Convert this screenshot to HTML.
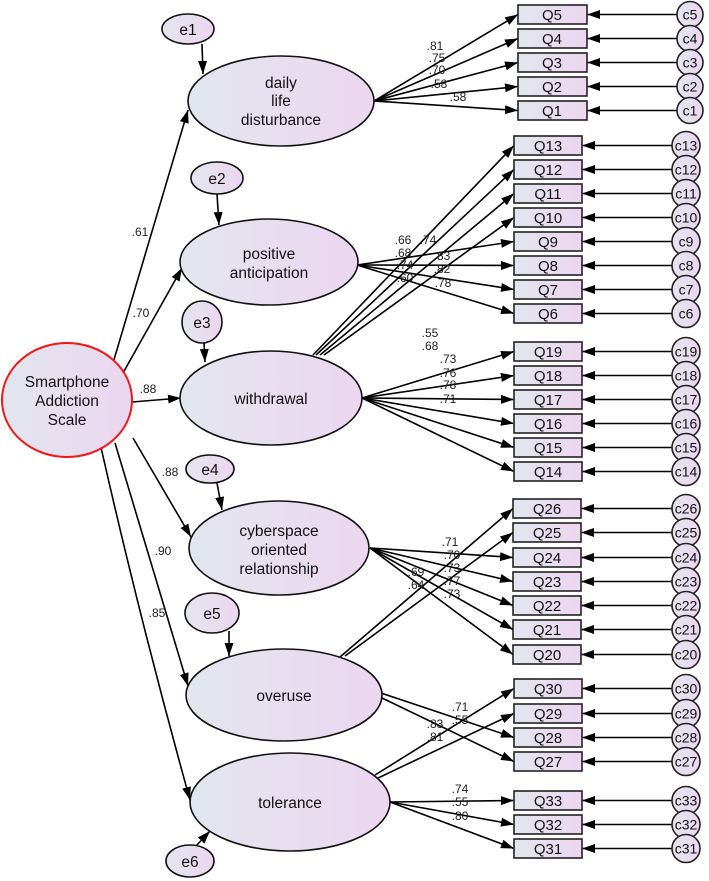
<!DOCTYPE html>
<html><head><meta charset="utf-8"><style>body{margin:0;background:#fff}svg{display:block}</style></head><body>
<svg width="709" height="881" viewBox="0 0 709 881" xmlns="http://www.w3.org/2000/svg" font-family="Liberation Sans, Arial, sans-serif">
<defs>
<linearGradient id="g" x1="0" y1="0" x2="1" y2="0"><stop offset="0" stop-color="#e2e6ee"/><stop offset="1" stop-color="#ecd6f0"/></linearGradient>
<marker id="a" markerUnits="userSpaceOnUse" markerWidth="14" markerHeight="10" refX="13" refY="4.5" orient="auto"><path d="M0,0 L13,4.5 L0,9 z" fill="#000"/></marker>
</defs>
<g stroke="#000" stroke-width="1.6" fill="none" marker-end="url(#a)">
<line x1="113" y1="363" x2="188" y2="110"/>
<line x1="123" y1="373" x2="182" y2="268"/>
<line x1="132" y1="402" x2="181" y2="398"/>
<line x1="133" y1="438" x2="191" y2="537"/>
<path d="M115,443 Q150,560 188,686"/>
<path d="M100,443 Q140,620 190,800"/>
<line x1="202" y1="44" x2="203" y2="74"/>
<line x1="217" y1="194" x2="219" y2="225"/>
<line x1="204" y1="343" x2="205" y2="362"/>
<line x1="217" y1="483" x2="222" y2="510"/>
<line x1="229" y1="631" x2="229" y2="656"/>
<line x1="196" y1="846" x2="210" y2="831"/>
<line x1="374" y1="101" x2="518" y2="14.5"/>
<line x1="374" y1="101" x2="518" y2="38.5"/>
<line x1="374" y1="101" x2="518" y2="62.5"/>
<line x1="374" y1="101" x2="518" y2="86.5"/>
<line x1="374" y1="101" x2="518" y2="110.5"/>
<line x1="357" y1="265" x2="514" y2="241.5"/>
<line x1="357" y1="265" x2="514" y2="265.5"/>
<line x1="357" y1="265" x2="514" y2="289.5"/>
<line x1="357" y1="265" x2="514" y2="313.5"/>
<line x1="313" y1="355" x2="514" y2="145.5"/>
<line x1="316" y1="355" x2="514" y2="169.5"/>
<line x1="320" y1="355" x2="514" y2="193.5"/>
<line x1="324" y1="355" x2="514" y2="217.5"/>
<line x1="362" y1="398" x2="514" y2="351.5"/>
<line x1="362" y1="398" x2="514" y2="375.5"/>
<line x1="362" y1="398" x2="514" y2="399.5"/>
<line x1="362" y1="398" x2="514" y2="423.5"/>
<line x1="362" y1="398" x2="514" y2="447.5"/>
<line x1="362" y1="398" x2="514" y2="471.5"/>
<line x1="370" y1="548" x2="513" y2="557.5"/>
<line x1="370" y1="548" x2="513" y2="581.5"/>
<line x1="370" y1="548" x2="513" y2="605.5"/>
<line x1="370" y1="548" x2="513" y2="629.5"/>
<line x1="370" y1="548" x2="513" y2="654.5"/>
<line x1="340" y1="657" x2="513" y2="508.5"/>
<line x1="345" y1="656" x2="513" y2="532.5"/>
<line x1="381" y1="693" x2="514" y2="737.5"/>
<line x1="382" y1="698" x2="514" y2="761.5"/>
<line x1="375" y1="775" x2="514" y2="688.5"/>
<line x1="378" y1="778" x2="514" y2="713.5"/>
<line x1="390" y1="802" x2="514" y2="800.5"/>
<line x1="390" y1="802" x2="514" y2="824.5"/>
<line x1="390" y1="802" x2="514" y2="848.5"/>
<line x1="677" y1="14.5" x2="587" y2="14.5"/>
<line x1="677" y1="38.5" x2="587" y2="38.5"/>
<line x1="677" y1="62.5" x2="587" y2="62.5"/>
<line x1="677" y1="86.5" x2="587" y2="86.5"/>
<line x1="677" y1="110.5" x2="587" y2="110.5"/>
<line x1="672" y1="145.5" x2="582" y2="145.5"/>
<line x1="672" y1="169.5" x2="582" y2="169.5"/>
<line x1="672" y1="193.5" x2="582" y2="193.5"/>
<line x1="672" y1="217.5" x2="582" y2="217.5"/>
<line x1="672" y1="241.5" x2="582" y2="241.5"/>
<line x1="672" y1="265.5" x2="582" y2="265.5"/>
<line x1="672" y1="289.5" x2="582" y2="289.5"/>
<line x1="672" y1="313.5" x2="582" y2="313.5"/>
<line x1="672" y1="351.5" x2="582" y2="351.5"/>
<line x1="672" y1="375.5" x2="582" y2="375.5"/>
<line x1="672" y1="399.5" x2="582" y2="399.5"/>
<line x1="672" y1="423.5" x2="582" y2="423.5"/>
<line x1="672" y1="447.5" x2="582" y2="447.5"/>
<line x1="672" y1="471.5" x2="582" y2="471.5"/>
<line x1="672" y1="508.5" x2="581" y2="508.5"/>
<line x1="672" y1="532.5" x2="581" y2="532.5"/>
<line x1="672" y1="557.5" x2="581" y2="557.5"/>
<line x1="672" y1="581.5" x2="581" y2="581.5"/>
<line x1="672" y1="605.5" x2="581" y2="605.5"/>
<line x1="672" y1="629.5" x2="581" y2="629.5"/>
<line x1="672" y1="654.5" x2="581" y2="654.5"/>
<line x1="672" y1="688.5" x2="582" y2="688.5"/>
<line x1="672" y1="713.5" x2="582" y2="713.5"/>
<line x1="672" y1="737.5" x2="582" y2="737.5"/>
<line x1="672" y1="761.5" x2="582" y2="761.5"/>
<line x1="672" y1="800.5" x2="582" y2="800.5"/>
<line x1="672" y1="824.5" x2="582" y2="824.5"/>
<line x1="672" y1="848.5" x2="582" y2="848.5"/>
</g>
<g fill="url(#g)" stroke="#111" stroke-width="1.6">
<ellipse cx="281" cy="101" rx="93" ry="45"/>
<ellipse cx="269" cy="262" rx="89" ry="43"/>
<ellipse cx="271" cy="398" rx="91" ry="47"/>
<ellipse cx="279" cy="548" rx="90" ry="47"/>
<ellipse cx="284" cy="695" rx="98" ry="46"/>
<ellipse cx="290" cy="802" rx="100" ry="49"/>
<ellipse cx="67" cy="400" rx="65" ry="57" stroke="#f01818" stroke-width="2"/>
<ellipse cx="188" cy="29" rx="26" ry="15"/>
<ellipse cx="217" cy="178" rx="26" ry="16"/>
<ellipse cx="202" cy="322" rx="20" ry="21"/>
<ellipse cx="210" cy="469" rx="24" ry="14"/>
<ellipse cx="212" cy="613" rx="27" ry="20"/>
<ellipse cx="190" cy="861" rx="24" ry="16"/>
</g>
<g fill="url(#g)" stroke="#222" stroke-width="1.6">
<rect x="518" y="5" width="69" height="19"/><rect x="518" y="29" width="69" height="19"/><rect x="518" y="53" width="69" height="19"/><rect x="518" y="77" width="69" height="19"/><rect x="518" y="101" width="69" height="19"/>
<rect x="514" y="136" width="68" height="19"/><rect x="514" y="160" width="68" height="19"/><rect x="514" y="184" width="68" height="19"/><rect x="514" y="208" width="68" height="19"/><rect x="514" y="232" width="68" height="19"/><rect x="514" y="256" width="68" height="19"/><rect x="514" y="280" width="68" height="19"/><rect x="514" y="304" width="68" height="19"/>
<rect x="514" y="342" width="68" height="19"/><rect x="514" y="366" width="68" height="19"/><rect x="514" y="390" width="68" height="19"/><rect x="514" y="414" width="68" height="19"/><rect x="514" y="438" width="68" height="19"/><rect x="514" y="462" width="68" height="19"/>
<rect x="513" y="499" width="68" height="19"/><rect x="513" y="523" width="68" height="19"/><rect x="513" y="548" width="68" height="19"/><rect x="513" y="572" width="68" height="19"/><rect x="513" y="596" width="68" height="19"/><rect x="513" y="620" width="68" height="19"/><rect x="513" y="645" width="68" height="19"/>
<rect x="514" y="679" width="68" height="19"/><rect x="514" y="704" width="68" height="19"/><rect x="514" y="728" width="68" height="19"/><rect x="514" y="752" width="68" height="19"/>
<rect x="514" y="791" width="68" height="19"/><rect x="514" y="815" width="68" height="19"/><rect x="514" y="839" width="68" height="19"/>
</g>
<g fill="url(#g)" stroke="#222" stroke-width="1.6">
<circle cx="690" cy="14.5" r="13"/><circle cx="690" cy="38.5" r="13"/><circle cx="690" cy="62.5" r="13"/><circle cx="690" cy="86.5" r="13"/><circle cx="690" cy="110.5" r="13"/>
<circle cx="686" cy="145.5" r="14"/><circle cx="686" cy="169.5" r="14"/><circle cx="686" cy="193.5" r="14"/><circle cx="686" cy="217.5" r="14"/><circle cx="686" cy="241.5" r="14"/><circle cx="686" cy="265.5" r="14"/><circle cx="686" cy="289.5" r="14"/><circle cx="686" cy="313.5" r="14"/>
<circle cx="686" cy="351.5" r="14"/><circle cx="686" cy="375.5" r="14"/><circle cx="686" cy="399.5" r="14"/><circle cx="686" cy="423.5" r="14"/><circle cx="686" cy="447.5" r="14"/><circle cx="686" cy="471.5" r="14"/>
<circle cx="686" cy="508.5" r="14"/><circle cx="686" cy="532.5" r="14"/><circle cx="686" cy="557.5" r="14"/><circle cx="686" cy="581.5" r="14"/><circle cx="686" cy="605.5" r="14"/><circle cx="686" cy="629.5" r="14"/><circle cx="686" cy="654.5" r="14"/>
<circle cx="686" cy="688.5" r="14"/><circle cx="686" cy="713.5" r="14"/><circle cx="686" cy="737.5" r="14"/><circle cx="686" cy="761.5" r="14"/>
<circle cx="686" cy="800.5" r="14"/><circle cx="686" cy="824.5" r="14"/><circle cx="686" cy="848.5" r="14"/>
</g>
<g font-size="15.5" fill="#111" text-anchor="middle">
<text x="281" y="88">daily</text><text x="281" y="106">life</text><text x="281" y="125">disturbance</text>
<text x="269" y="259">positive</text><text x="269" y="278">anticipation</text>
<text x="271" y="404">withdrawal</text>
<text x="279" y="536">cyberspace</text><text x="279" y="555">oriented</text><text x="279" y="574">relationship</text>
<text x="284" y="701">overuse</text>
<text x="290" y="808">tolerance</text>
<text x="67" y="387">Smartphone</text><text x="67" y="406">Addiction</text><text x="67" y="425">Scale</text>
<text x="188" y="35">e1</text><text x="217" y="184">e2</text><text x="202" y="328">e3</text><text x="210" y="475">e4</text><text x="212" y="619">e5</text><text x="190" y="867">e6</text>
</g>
<g font-size="15" fill="#111" text-anchor="middle">
<text x="552" y="20">Q5</text><text x="552" y="44">Q4</text><text x="552" y="68">Q3</text><text x="552" y="92">Q2</text><text x="552" y="116">Q1</text>
<text x="548" y="151">Q13</text><text x="548" y="175">Q12</text><text x="548" y="199">Q11</text><text x="548" y="223">Q10</text><text x="548" y="247">Q9</text><text x="548" y="271">Q8</text><text x="548" y="295">Q7</text><text x="548" y="319">Q6</text>
<text x="548" y="357">Q19</text><text x="548" y="381">Q18</text><text x="548" y="405">Q17</text><text x="548" y="429">Q16</text><text x="548" y="453">Q15</text><text x="548" y="477">Q14</text>
<text x="547" y="514">Q26</text><text x="547" y="538">Q25</text><text x="547" y="563">Q24</text><text x="547" y="587">Q23</text><text x="547" y="611">Q22</text><text x="547" y="635">Q21</text><text x="547" y="660">Q20</text>
<text x="548" y="694">Q30</text><text x="548" y="719">Q29</text><text x="548" y="743">Q28</text><text x="548" y="767">Q27</text>
<text x="548" y="806">Q33</text><text x="548" y="830">Q32</text><text x="548" y="854">Q31</text>
</g>
<g font-size="14" fill="#111" text-anchor="middle">
<text x="690" y="19.5">c5</text><text x="690" y="43.5">c4</text><text x="690" y="67.5">c3</text><text x="690" y="91.5">c2</text><text x="690" y="115.5">c1</text>
<text x="686" y="150.5">c13</text><text x="686" y="174.5">c12</text><text x="686" y="198.5">c11</text><text x="686" y="222.5">c10</text><text x="686" y="246.5">c9</text><text x="686" y="270.5">c8</text><text x="686" y="294.5">c7</text><text x="686" y="318.5">c6</text>
<text x="686" y="356.5">c19</text><text x="686" y="380.5">c18</text><text x="686" y="404.5">c17</text><text x="686" y="428.5">c16</text><text x="686" y="452.5">c15</text><text x="686" y="476.5">c14</text>
<text x="686" y="513.5">c26</text><text x="686" y="537.5">c25</text><text x="686" y="562.5">c24</text><text x="686" y="586.5">c23</text><text x="686" y="610.5">c22</text><text x="686" y="634.5">c21</text><text x="686" y="659.5">c20</text>
<text x="686" y="693.5">c30</text><text x="686" y="718.5">c29</text><text x="686" y="742.5">c28</text><text x="686" y="766.5">c27</text>
<text x="686" y="805.5">c33</text><text x="686" y="829.5">c32</text><text x="686" y="853.5">c31</text>
</g>
<g font-size="12" fill="#222" text-anchor="middle">
<text x="140" y="236">.61</text><text x="141" y="317">.70</text><text x="148" y="393">.88</text>
<text x="170" y="476">.88</text><text x="163" y="555">.90</text><text x="157" y="617">.85</text>
<text x="435" y="50">.81</text><text x="437" y="62">.75</text><text x="437" y="74">.70</text><text x="439" y="88">.58</text><text x="458" y="101">.58</text>
<text x="403" y="244">.66</text><text x="428" y="244">.74</text><text x="403" y="257">.68</text><text x="442" y="260">.83</text><text x="405" y="269">.74</text><text x="442" y="273">.82</text><text x="405" y="282">.60</text><text x="443" y="287">.78</text>
<text x="430" y="337">.55</text><text x="430" y="350">.68</text><text x="448" y="363">.73</text><text x="448" y="377">.76</text><text x="448" y="389">.78</text><text x="448" y="403">.71</text>
<text x="450" y="546">.71</text><text x="452" y="559">.70</text><text x="452" y="572">.73</text><text x="452" y="585">.77</text><text x="452" y="598">.73</text>
<text x="416" y="576">.69</text><text x="416" y="589">.64</text>
<text x="460" y="711">.71</text><text x="460" y="724">.55</text><text x="435" y="728">.83</text><text x="435" y="741">.81</text>
<text x="460" y="793">.74</text><text x="460" y="806">.55</text><text x="460" y="820">.80</text>
</g>
</svg>
</body></html>
